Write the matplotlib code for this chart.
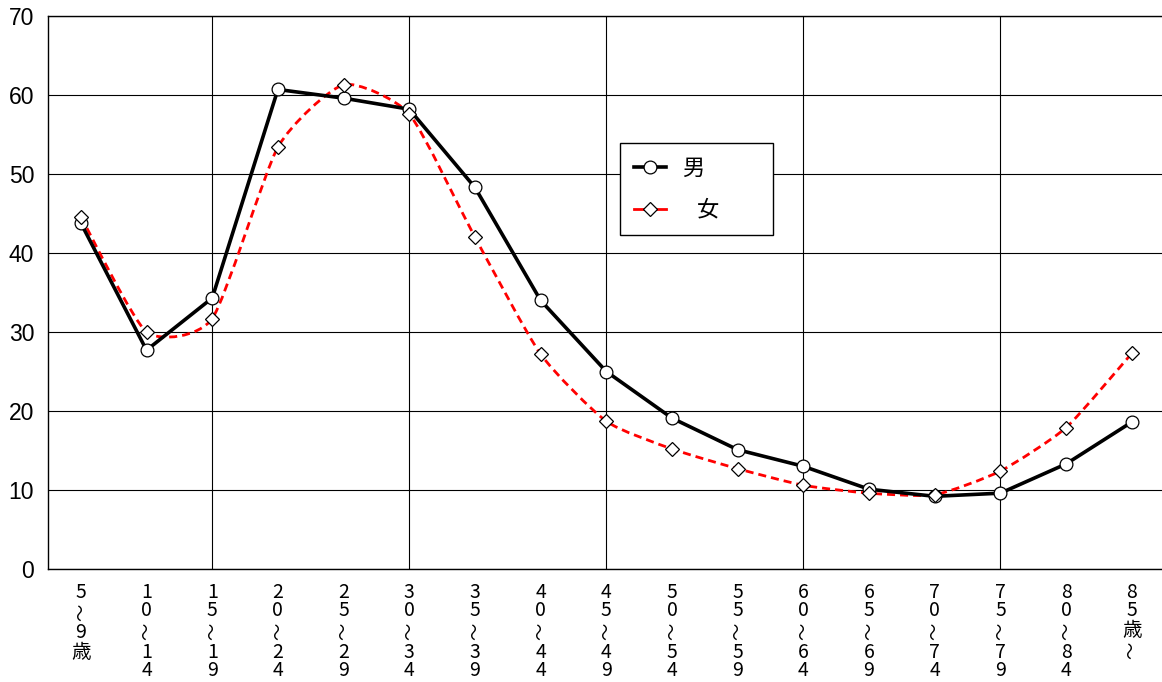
import numpy as np
import matplotlib
matplotlib.use('Agg')
import matplotlib.pyplot as plt
from matplotlib.path import Path
from matplotlib.patches import PathPatch
from matplotlib.lines import Line2D
import matplotlib.transforms as mtransforms

# ---- data ----
categories = ["5～9歳", "10～14", "15～19", "20～24", "25～29", "30～34", "35～39",
              "40～44", "45～49", "50～54", "55～59", "60～64", "65～69", "70～74",
              "75～79", "80～84", "85歳～"]
male = [43.8, 27.7, 34.3, 60.7, 59.6, 58.2, 48.3, 34.0, 25.0, 19.1, 15.1, 13.0,
        10.1, 9.2, 9.6, 13.3, 18.6]
female = [44.6, 30.0, 31.7, 53.4, 61.3, 57.6, 42.0, 27.2, 18.7, 15.2, 12.7, 10.6,
          9.6, 9.4, 12.4, 17.9, 27.3]
series_labels = ["男", "   女"]
yticks = [0, 10, 20, 30, 40, 50, 60, 70]

W, H = 1162, 682
fig = plt.figure(figsize=(W / 100, H / 100), dpi=100)
L, R, T, B = 48, 1164.6, 16, 569
ax = fig.add_axes([L / W, 1 - B / H, (R - L) / W, (B - T) / H])

x = np.arange(len(categories))
ax.set_xlim(-0.5, len(categories) - 0.5)
ax.set_ylim(0, 70)

# grid
ax.set_yticks(yticks)
ax.set_xticks(x[2::3])
ax.grid(True, color='black', linewidth=0.8)
ax.set_axisbelow(True)
ax.tick_params(axis='both', length=0)
ax.tick_params(axis='y', pad=10)
ax.set_xticklabels([])
for lab in ax.get_yticklabels():
    lab.set_fontfamily('Liberation Sans')
    lab.set_fontsize(16.5)
for s in ax.spines.values():
    s.set_color('black')
    s.set_linewidth(1.0)

# male: straight segments
ax.plot(x, male, color='black', linewidth=2.6, marker='o', markersize=9.2,
        markerfacecolor='white', markeredgecolor='black', markeredgewidth=0.9,
        zorder=4)

# female: smoothed line (cubic Bezier through the points)
fy = np.asarray(female, dtype=float)
fx = x.astype(float)
pts = np.column_stack([fx, fy])
verts = [pts[0]]
codes = [Path.MOVETO]
n = len(pts)
k = 1.0 / 10.0
for i in range(n - 1):
    p0 = pts[max(i - 1, 0)]
    p1 = pts[i]
    p2 = pts[i + 1]
    p3 = pts[min(i + 2, n - 1)]
    c1 = p1 + (p2 - p0) * k
    c2 = p2 - (p3 - p1) * k
    verts += [c1, c2, p2]
    codes += [Path.CURVE4] * 3
patch = PathPatch(Path(verts, codes), fill=False, edgecolor='red', linewidth=2.0,
                  linestyle=(0, (2.9, 1.8)), zorder=3, transform=ax.transData)
ax.add_patch(patch)
ax.plot(x, female, linestyle='none', marker='D', markersize=6.8,
        markerfacecolor='white', markeredgecolor='black', markeredgewidth=0.9,
        zorder=5)

# legend
h_m = Line2D([], [], color='black', linewidth=2.6, marker='o', markersize=9.2,
             markerfacecolor='white', markeredgecolor='black', markeredgewidth=0.9)
h_f = Line2D([], [], color='red', linewidth=2.0, marker='D', markersize=6.8,
             markerfacecolor='white', markeredgecolor='black', markeredgewidth=0.9)
lx0, lx1, ly0, ly1 = 620, 773, 143, 235
leg = fig.legend([h_m, h_f], series_labels, loc='upper left',
                 bbox_to_anchor=(lx0 / W, 1 - ly1 / H, (lx1 - lx0) / W, (ly1 - ly0) / H),
                 mode='expand', borderaxespad=0, fancybox=False, framealpha=1,
                 edgecolor='black', handlelength=1.43, handletextpad=0.75,
                 borderpad=0.62, labelspacing=0.85,
                 prop={'family': ['Noto Sans CJK JP', 'DejaVu Sans'], 'size': 16})
leg.get_frame().set_linewidth(1.0)

# vertical x-axis labels
fam = ['Noto Sans CJK JP', 'DejaVu Sans']
trans = mtransforms.blended_transform_factory(ax.transData, fig.transFigure)
for i, lab in enumerate(categories):
    yp = 592
    prev = None
    for ch in lab:
        if prev is not None:
            if ch == '～':
                yp += 20
            elif prev == '～':
                yp += 21
            else:
                yp += 19
        if ch == '～':
            fig.text(x[i], 1 - yp / H, ch, transform=trans, ha='center', va='center',
                     rotation=90, fontsize=12.5, family=fam)
        else:
            fig.text(x[i], 1 - yp / H, ch, transform=trans, ha='center', va='center',
                     fontsize=14, family=fam)
        prev = ch

fig.savefig('out.png', dpi=100)
